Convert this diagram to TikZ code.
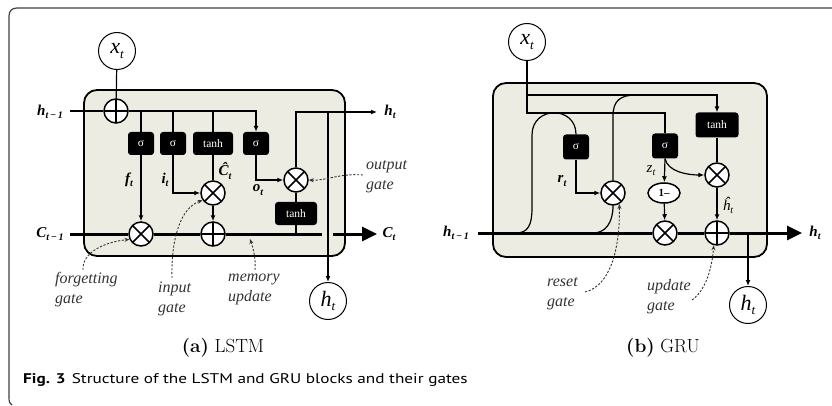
\documentclass[tikz,border=0pt]{standalone}
\usepackage{fontspec}
\usetikzlibrary{arrows.meta,shapes.geometric}
\newfontfamily\tnr{Liberation Serif}
\newfontfamily\capfont{PT Sans}
\definecolor{cellfill}{RGB}{237,236,227}
\newcommand{\vlab}[2]{#1\raisebox{-0.45ex}{\fontsize{10}{10}\selectfont #2}}
\newcommand{\iolab}[2]{{\tnr\itshape\fontsize{22}{22}\selectfont #1\raisebox{-0.4ex}{\fontsize{13}{13}\selectfont #2}}}
\tikzset{
 ln/.style={line width=1.2pt},
 arr/.style={line width=1.2pt, -{Latex[length=6pt,width=5pt]}},
 thickln/.style={line width=3pt},
 bigarr/.style={line width=3pt, -{Triangle[length=15pt,width=14pt]}},
 cell/.style={draw, line width=1.8pt, fill=cellfill, rounded corners=13pt},
 opnode/.style={circle, draw, line width=1.5pt, fill=white, minimum size=24pt, inner sep=0pt},
 mult/.style={opnode, path picture={\draw[line width=1.5pt] (path picture bounding box.north west) -- (path picture bounding box.south east) (path picture bounding box.north east) -- (path picture bounding box.south west);}},
 plus/.style={opnode, path picture={\draw[line width=1.5pt] (path picture bounding box.north) -- (path picture bounding box.south) (path picture bounding box.west) -- (path picture bounding box.east);}},
 gatebox/.style={fill=black, rounded corners=3pt, text=white, minimum height=23pt, minimum width=26pt, inner sep=2pt, font=\tnr\fontsize{11.5}{11.5}\selectfont},
 iocirc/.style={circle, draw, line width=1pt, fill=white, minimum size=37pt, inner sep=0pt},
 ann/.style={line width=0.9pt, draw=black!80, dash pattern=on 2.2pt off 1.6pt, -{Stealth[length=5pt,width=4pt]}},
 anntext/.style={font=\tnr\itshape\fontsize{16}{20}\selectfont, text=black!80, align=left, inner sep=0pt},
 lab/.style={font=\tnr\bfseries\itshape\fontsize{15}{15}\selectfont, inner sep=0pt},
 onem/.style={ellipse, draw, line width=1.5pt, fill=white, minimum width=32pt, minimum height=20pt, inner sep=0pt, font=\tnr\bfseries\fontsize{11}{11}\selectfont},
}
\begin{document}
\begin{tikzpicture}[x=1pt,y=-1pt]
\useasboundingbox (0,0) rectangle (832,406);
% outer frame
\draw[line width=1.2pt, black!75] (832,8) -- (17,8) .. controls (12,8) and (9,11) .. (9,16) -- (9,398) .. controls (9,402) and (10,404) .. (12,405);

% ================= LSTM =================
\draw[cell] (84,90) rectangle (345,256);
\node[iocirc] (x1) at (117,51) {\iolab{x}{t}};
\node[plus] (p) at (116,111) {};
\node[gatebox] (s1) at (141,143.5) {σ};
\node[gatebox] (s2) at (173,143.5) {σ};
\node[gatebox, minimum width=40pt] (tn) at (213,143.5) {tanh};
\node[gatebox] (s4) at (256,143.5) {σ};
\node[mult] (f) at (141,234) {};
\node[mult] (ig) at (213,193) {};
\node[plus] (ad) at (213,234) {};
\node[mult] (og) at (296,180) {};
\node[gatebox, minimum width=42pt] (tn2) at (296,213.5) {tanh};
\node[iocirc] (hc) at (328,301) {\iolab{h}{t}};

\coordinate (hin) at (70,111);
\coordinate (cin) at (70,234);
\coordinate (cgap) at (322,234);
\coordinate (cres) at (333,234);
\coordinate (cend) at (377,234);
\coordinate (hturn) at (296,112);
\coordinate (hbr) at (328,112);
\coordinate (hend) at (377,112);

\draw[ln] (x1) -- (p);
\draw[ln] (hin) -- (p);
\draw[arr] (p) -- (s4.north |- p) -- (s4.north);
\draw[ln] (s1.north |- p) -- (s1.north);
\draw[ln] (s2.north |- p) -- (s2.north);
\draw[ln] (tn.north |- p) -- (tn.north);
\draw[arr] (s1) -- (f);
\draw[arr] (s2.south) |- (ig);
\draw[ln] (tn) -- (ig);
\draw[arr] (ig) -- (ad);
\draw[arr] (s4.south) |- (og);
\draw[ln] (og) -- (tn2);
\draw[ln] (tn2) -- (tn2.south |- cin);
\draw[thickln] (cin) -- (f) -- (ad) -- (cgap);
\draw[bigarr] (cres) -- (cend);
\draw[arr] (og) -- (hturn) -- (hend);
\draw[arr] (hbr) -- (hc);

\node[lab] at (50,112) {\vlab{h}{t\,−\,1}};
\node[lab] at (390,112) {\vlab{h}{t}};
\node[lab] at (50,234) {\vlab{C}{t\,−\,1}};
\node[lab] at (389,234) {\vlab{C}{t}};
\node[lab] at (129,180) {\vlab{f}{t}};
\node[lab] at (165,180) {\vlab{i}{t}};
\node[lab] at (225,171) {\vlab{Ĉ}{t}};
\node[lab] at (258,190) {\vlab{o}{t}};

\node[anntext, anchor=west] at (366,177) {output\\gate};
\draw[ann] (363,175) .. controls (340,173) and (325,181) .. (og.east);
\node[anntext, anchor=west] at (55,290) {forgetting\\gate};
\draw[ann] (83,270) .. controls (82,252) and (105,242) .. (f.205);
\node[anntext, anchor=west] at (158,299) {input\\gate};
\draw[ann] (172,278) .. controls (171,240) and (180,208) .. (ig.215);
\node[anntext, anchor=west] at (228,289) {memory\\update};
\coordinate (mu) at (250,239);
\draw[ann] (255,270) .. controls (256,258) and (253,248) .. (mu);

% ================= GRU =================
\draw[cell] (493,83) rectangle (767,257);
\node[iocirc] (xc2) at (527,42) {\iolab{x}{t}};
\node[gatebox, minimum height=25pt] (sr) at (576,147) {σ};
\node[gatebox, minimum height=25pt] (sz) at (665,146) {σ};
\node[gatebox, minimum height=25pt, minimum width=43pt] (tg) at (717,125) {tanh};
\node[mult] (rg) at (613,193) {};
\node[mult] (mg) at (717,175) {};
\node[onem] (om) at (664,193) {1–};
\node[mult] (mz) at (665,233) {};
\node[plus] (ad2) at (717,233) {};
\node[iocirc] (hc2) at (748,305) {\iolab{h}{t}};

\coordinate (xa) at (527,95);
\coordinate (xb) at (527,113);
\coordinate (hin2) at (478,233);
\coordinate (hend2) at (802,233);
\coordinate (hbr2) at (748,233);
\coordinate (hL) at (516,233);
\coordinate (hR) at (593,233);
\coordinate (rtop) at (636,95);

\draw[ln] (xc2) -- (xb) -- (sz.north |- xb) -- (sz.north);
\draw[arr] (xa) -- (tg.north |- xa) -- (tg.north);
\draw[ln] (hL) .. controls (528,233) and (532,225) .. (532,208) -- (532,135) .. controls (532,105.5) and (576,105.5) .. (sr.north);
\draw[ln] (hR) .. controls (606,233) and (613,222) .. (rg.south);
\draw[ln] (rg.north) -- (613,116) .. controls (613,101) and (620,95) .. (rtop);
\draw[arr] (sr.south) |- (rg);
\draw[arr] (sz.south) -- (om);
\draw[arr] (sz.south) .. controls (668,172) and (688,175) .. (mg.west);
\draw[ln] (tg) -- (mg);
\draw[arr] (mg) -- (ad2);
\draw[arr] (om) -- (mz);
\draw[thickln] (hin2) -- (mz) -- (ad2);
\draw[bigarr] (ad2) -- (hend2);
\draw[arr] (hbr2) -- (hc2);

\node[lab] at (456,233) {\vlab{h}{t\,−\,1}};
\node[lab] at (815,233) {\vlab{h}{t}};
\node[lab] at (562,181) {\vlab{r}{t}};
\node[font=\tnr\itshape\fontsize{15}{15}\selectfont, inner sep=0pt] at (651,171) {\vlab{z}{t}};
\node[font=\tnr\itshape\fontsize{15}{15}\selectfont, inner sep=0pt] at (728,205) {\vlab{ĥ}{t}};

\node[anntext, anchor=west] at (547,294) {reset\\gate};
\draw[ann] (585,292) .. controls (610,286) and (620,250) .. (rg.-60);
\node[anntext, anchor=west] at (647,297) {update\\gate};
\draw[ann] (692,300) .. controls (706,290) and (712,268) .. (ad2.-105);

% captions
\node[font=\fontsize{19}{19}\selectfont] at (223,348) {\textbf{(a)} LSTM};
\node[font=\fontsize{19}{19}\selectfont] at (663,348) {\textbf{(b)} GRU};
\node[anchor=west, inner sep=0pt, font=\capfont\fontsize{14}{15}\selectfont] at (23,380) {\scalebox{1.23}[1]{\textbf{Fig. 3}\hspace{5pt}Structure of the LSTM and GRU blocks and their gates}};
\end{tikzpicture}
\end{document}
